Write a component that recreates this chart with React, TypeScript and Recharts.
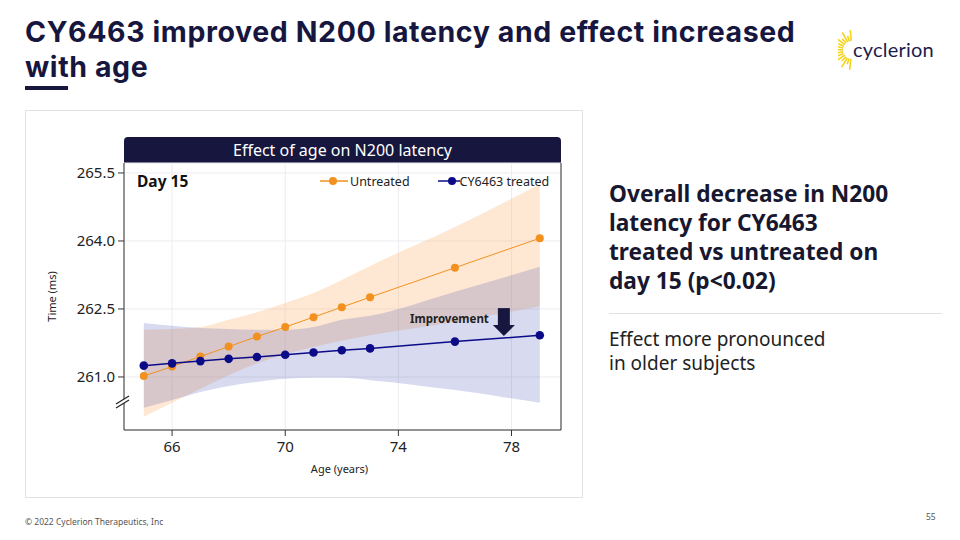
import React from "react";
import {
  ComposedChart,
  Area,
  Line,
  XAxis,
  YAxis,
  CartesianGrid,
  ReferenceLine,
  ReferenceDot,
} from "recharts";

// values (day 15, fitted latency vs age)
const ages = [65, 66, 67, 68, 69, 70, 71, 72, 73, 76, 79];
const untreated = [261.02, 261.23, 261.45, 261.67, 261.89, 262.1, 262.32, 262.54, 262.76, 263.41, 264.06];
const untreatedLow = [260.12, 260.43, 260.74, 261.04, 261.3, 261.5, 261.66, 261.8, 261.92, 262.22, 262.56];
const untreatedHigh = [262.04, 262.06, 262.1, 262.26, 262.43, 262.63, 262.85, 263.14, 263.45, 264.31, 265.25];
const treated = [261.25, 261.3, 261.35, 261.4, 261.44, 261.49, 261.54, 261.59, 261.63, 261.78, 261.92];
const treatedLow = [260.32, 260.49, 260.67, 260.8, 260.89, 260.96, 260.98, 260.98, 260.93, 260.71, 260.43];
const treatedHigh = [262.19, 262.13, 262.08, 262.06, 262.04, 262.04, 262.1, 262.26, 262.35, 262.88, 263.43];

const xTicks = [66, 70, 74, 78];
const yTicks = [261.0, 262.5, 264.0, 265.5];
const xDomain = [64.3, 79.75];
const yDomain = [259.83, 265.72];
const improvementAt = { age: 77.73, value: 262.21 };
const axisBreakAt = { age: 64.3, value: 260.45 };

const data = ages.map((age, i) => ({
  age,
  untreated: untreated[i],
  treated: treated[i],
  untreatedBand: [untreatedLow[i], untreatedHigh[i]],
  treatedBand: [treatedLow[i], treatedHigh[i]],
}));

const NAVY = "#16163f";
const ORANGE = "#f2911f";
const BLUE = "#0b0b88";
const chartFont = "'Noto Sans', sans-serif";

const YTitle = (props: any) => {
  const vb = props.viewBox || { x: 49, y: 13, width: 75, height: 267 };
  const x = vb.x + 2;
  const y = vb.y + vb.height / 2;
  return (
    <text x={x} y={y} transform={`rotate(-90 ${x} ${y})`} textAnchor="middle" dominantBaseline="central" fontSize={11} fill="#222" fontFamily={chartFont}>
      Time (ms)
    </text>
  );
};

const XTitle = (props: any) => {
  const vb = props.viewBox || { x: 100, y: 280, width: 437, height: 50 };
  return (
    <text x={vb.x + vb.width / 2 - 3} y={vb.y + 43} textAnchor="middle" fontSize={11} fill="#222" fontFamily={chartFont}>
      Age (years)
    </text>
  );
};

const AxisBreak = (props: any) => {
  const { cx, cy } = props;
  return (
    <g>
      <polygon points={`${cx - 8},${cy + 2} ${cx + 5},${cy - 6} ${cx + 5},${cy - 2} ${cx - 8},${cy + 6}`} fill="#fff" />
      <line x1={cx - 8} y1={cy + 2} x2={cx + 5} y2={cy - 6} stroke="#222" strokeWidth={1.2} />
      <line x1={cx - 8} y1={cy + 6} x2={cx + 5} y2={cy - 2} stroke="#222" strokeWidth={1.2} />
    </g>
  );
};

const Improvement = (props: any) => {
  const { cx, cy } = props;
  return (
    <g>
      <text x={cx - 15} y={cy + 1} textAnchor="end" fontSize={11.5} fontWeight={700} fill="#222" fontFamily={chartFont}>
        Improvement
      </text>
      <rect x={cx - 6} y={cy - 14} width={12} height={18} fill={NAVY} />
      <polygon points={`${cx - 11},${cy + 3} ${cx + 11},${cy + 3} ${cx},${cy + 14}`} fill={NAVY} />
    </g>
  );
};

function Logo() {
  const rays = [];
  for (let i = 0; i < 15; i++) {
    const a = ((95 + i * 12) * Math.PI) / 180;
    const r1 = 9;
    const r2 = i % 2 === 0 ? 20 : 15;
    rays.push(
      <line key={i} x1={14 + r1 * Math.cos(a)} y1={20 - r1 * Math.sin(a)} x2={14 + r2 * Math.cos(a)} y2={20 - r2 * Math.sin(a)} stroke="#f6d31c" strokeWidth={1.6} />
    );
  }
  return (
    <div style={{ position: "absolute", left: 838, top: 30, width: 110, height: 42 }}>
      <svg width={40} height={42} style={{ position: "absolute", left: 0, top: 0 }}>
        {rays}
      </svg>
      <div style={{ position: "absolute", left: 15, top: 7, fontFamily: "Lato, sans-serif", fontSize: 20, color: "#1c1c4e", letterSpacing: 0.2 }}>
        cyclerion
      </div>
    </div>
  );
}

export default function App() {
  return (
    <div style={{ position: "fixed", left: 0, top: 0, width: 960, height: 540, background: "#fff", overflow: "hidden", fontFamily: chartFont }}>
      <div style={{ position: "absolute", left: 25, top: 15, fontFamily: "Inter, sans-serif", fontWeight: 700, fontSize: 28.5, lineHeight: "34.5px", color: NAVY, letterSpacing: 0.6 }}>
        CY6463 improved N200 latency and effect increased
        <br />
        with age
      </div>
      <div style={{ position: "absolute", left: 25, top: 86, width: 43, height: 4, background: NAVY }} />
      <Logo />

      {/* chart card */}
      <div style={{ position: "absolute", left: 25, top: 110, width: 556, height: 386, border: "1px solid #e2e2e2" }} />
      <div style={{ position: "absolute", left: 124, top: 137, width: 437, height: 26, background: NAVY, borderRadius: "4px 4px 0 0", color: "#fff", fontFamily: chartFont, fontSize: 16, lineHeight: "26px", textAlign: "center" }}>
        Effect of age on N200 latency
      </div>
      <div style={{ position: "absolute", left: 24, top: 150 }}>
        <ComposedChart width={560} height={330} data={data} margin={{ top: 13, right: 23, bottom: 0, left: 25 }}>
          <CartesianGrid stroke="#ececf1" strokeWidth={1} />
          <XAxis
            dataKey="age"
            type="number"
            domain={xDomain}
            ticks={xTicks}
            allowDataOverflow
            height={50}
            tickSize={6}
            tickMargin={5}
            stroke="#333"
            tick={{ fontSize: 15, fill: "#222", fontFamily: chartFont }}
            label={<XTitle />}
          />
          <YAxis
            type="number"
            domain={yDomain}
            ticks={yTicks}
            allowDataOverflow
            width={75}
            tickSize={6}
            tickMargin={3}
            stroke="#333"
            tickFormatter={(v: number) => v.toFixed(1)}
            tick={{ fontSize: 15, fill: "#222", fontFamily: chartFont }}
            label={<YTitle />}
          />
          <ReferenceLine x={xDomain[1]} stroke="#333" />
          <Area dataKey="untreatedBand" type="monotone" stroke="none" fill="#fbb46c" fillOpacity={0.3} isAnimationActive={false} />
          <Area dataKey="treatedBand" type="monotone" stroke="none" fill="#3a44b0" fillOpacity={0.2} isAnimationActive={false} />
          <Line dataKey="untreated" type="linear" stroke={ORANGE} strokeWidth={1} dot={{ r: 4, fill: ORANGE, stroke: "none" }} isAnimationActive={false} />
          <Line dataKey="treated" type="linear" stroke={BLUE} strokeWidth={1.5} dot={{ r: 4.3, fill: BLUE, stroke: "none" }} isAnimationActive={false} />
          <ReferenceDot x={improvementAt.age} y={improvementAt.value} shape={<Improvement />} ifOverflow="visible" />
          <ReferenceDot x={axisBreakAt.age} y={axisBreakAt.value} shape={<AxisBreak />} ifOverflow="visible" />
        </ComposedChart>
      </div>
      <div style={{ position: "absolute", left: 137, top: 170, fontFamily: chartFont, fontWeight: 700, fontSize: 15.5, color: "#111" }}>Day 15</div>
      {/* legend */}
      <div style={{ position: "absolute", left: 320, top: 172, fontFamily: chartFont, fontSize: 12.5, color: "#222", display: "flex", alignItems: "center", height: 18 }}>
        <svg width={28} height={10}>
          <line x1={0} y1={5} x2={28} y2={5} stroke={ORANGE} strokeWidth={1.5} />
          <circle cx={13} cy={5} r={4} fill={ORANGE} />
        </svg>
        <span style={{ marginLeft: 2 }}>Untreated</span>
        <svg width={22} height={10} style={{ marginLeft: 28 }}>
          <line x1={0} y1={5} x2={22} y2={5} stroke={BLUE} strokeWidth={1.5} />
          <circle cx={14} cy={5} r={4} fill={BLUE} />
        </svg>
        <span style={{ marginLeft: 0 }}>CY6463 treated</span>
      </div>

      {/* right-hand text */}
      <div style={{ position: "absolute", left: 609, top: 179, fontWeight: 700, fontSize: 22.7, lineHeight: "29px", color: "#17172f" }}>
        Overall decrease in N200
        <br />
        latency for CY6463
        <br />
        treated vs untreated on
        <br />
        day 15 (p&lt;0.02)
      </div>
      <div style={{ position: "absolute", left: 609, top: 313, width: 333, height: 1, background: "#e2e2e2" }} />
      <div style={{ position: "absolute", left: 609, top: 327, fontSize: 19, lineHeight: "24px", color: "#222" }}>
        Effect more pronounced
        <br />
        in older subjects
      </div>

      <div style={{ position: "absolute", left: 25, top: 516, fontSize: 8.5, color: "#555" }}>© 2022 Cyclerion Therapeutics, Inc</div>
      <div style={{ position: "absolute", left: 926, top: 511, fontSize: 8.5, color: "#555" }}>55</div>
    </div>
  );
}
